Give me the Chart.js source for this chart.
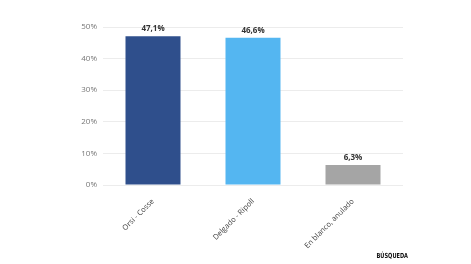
<!DOCTYPE html>
<html><head><meta charset="utf-8">
<script src="https://cdn.jsdelivr.net/npm/chart.js@4"></script>
<style>html,body{margin:0;padding:0;background:#fff;}#wrap{width:471px;height:264px;position:relative;}</style>
</head><body><div id="wrap"><canvas id="c" width="471" height="264"></canvas></div>
<script>
const categories = ["Orsi - Cosse", "Delgado - Ripoll", "En blanco, anulado"];
const values = [47.1, 46.6, 6.3];
const valueLabels = ["47,1%", "46,6%", "6,3%"];
const barColors = ["#2f4f8c", "#54b6f1", "#a5a5a5"];
const yTicks = [0, 10, 20, 30, 40, 50];

const labelPlugin = {
  id: 'vlabels',
  afterDatasetsDraw(chart) {
    const ctx = chart.ctx;
    const meta = chart.getDatasetMeta(0);
    ctx.save();
    ctx.font = 'bold 8px "Open Sans", sans-serif';
    ctx.fillStyle = '#333';
    ctx.textAlign = 'center';
    ctx.textBaseline = 'bottom';
    meta.data.forEach((el, i) => {
      ctx.fillText(valueLabels[i], el.x, el.y - 3);
    });
    ctx.translate(408, 256);
    ctx.scale(0.72, 1);
    ctx.font = 'bold 7px "DejaVu Sans", sans-serif';
    ctx.fillStyle = '#111';
    ctx.textAlign = 'right';
    ctx.textBaseline = 'middle';
    ctx.fillText('BÚSQUEDA', 0, 0);
    ctx.restore();
  }
};

new Chart(document.getElementById('c'), {
  type: 'bar',
  data: {
    labels: categories,
    datasets: [{ data: values, backgroundColor: barColors, barPercentage: 0.55, categoryPercentage: 1.0 }]
  },
  options: {
    responsive: false,
    animation: false,
    layout: { padding: { top: 27, right: 68, left: 0, bottom: 0 } },
    plugins: { legend: { display: false }, tooltip: { enabled: false } },
    scales: {
      x: {
        grid: { display: false },
        border: { display: false },
        ticks: { color: '#444', font: { size: 7.5, family: '"Open Sans", sans-serif' }, maxRotation: 45, minRotation: 45, padding: 4 },
        afterFit(s) { s.height = 79; }
      },
      y: {
        min: 0, max: 50,
        afterBuildTicks(s) { s.ticks = yTicks.map(v => ({ value: v })); },
        grid: { color: '#ececec', drawTicks: false },
        border: { display: false },
        ticks: { color: '#777', font: { size: 8, family: '"Open Sans", sans-serif' }, padding: 6, callback: v => v + '%' },
        afterFit(s) { s.width = 103; }
      }
    }
  },
  plugins: [labelPlugin]
});
</script></body></html>
